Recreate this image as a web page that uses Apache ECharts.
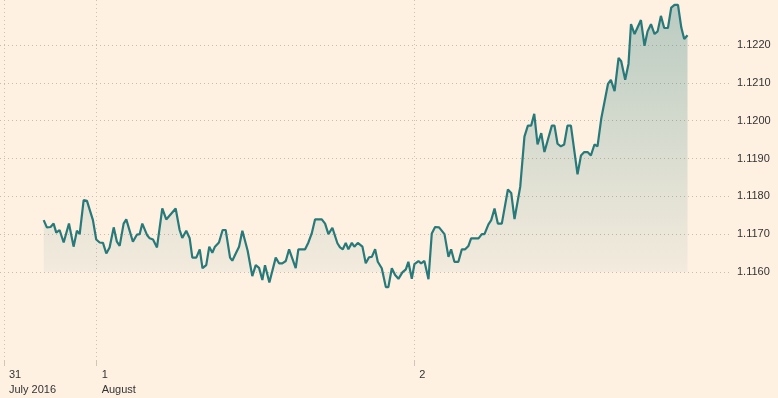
<!DOCTYPE html>
<html>
<head>
<meta charset="utf-8">
<script src="https://cdn.jsdelivr.net/npm/echarts@6/dist/echarts.min.js"></script>
<style>
  html, body { margin: 0; padding: 0; background: #fef1e2; }
  #chart { width: 778px; height: 398px; }
</style>
</head>
<body>
<div id="chart"></div>
<script>
// hours counted from 31 July 2016 00:00
const hours = [
  20.0, 20.24, 20.52, 20.75, 20.95, 21.2, 21.51, 21.91, 22.26, 22.51, 22.72, 23.02, 23.27, 23.72, 23.97,
  24.23, 24.48, 24.73, 24.98, 25.29, 25.53, 25.74, 26.04, 26.24, 26.74, 27.05, 27.25, 27.45, 27.82, 28.01,
  28.26, 28.56, 28.71, 28.96, 29.26, 29.97, 30.27, 30.47, 30.77, 31.03, 31.23, 31.53, 31.79, 32.0, 32.28,
  32.51, 32.74, 32.94, 33.24, 33.52, 33.75, 34.08, 34.25, 34.51, 34.76, 35.01, 35.41, 35.76, 36.02, 36.27,
  36.52, 36.72, 37.05, 37.53, 37.78, 38.03, 38.29, 38.54, 39.04, 39.24, 39.75, 40.0, 40.25, 40.5, 41.01,
  41.26, 41.51, 41.81, 42.19, 42.39, 42.6, 42.82, 43.02, 43.28, 43.47, 43.73, 44.08, 44.33, 44.58, 44.79,
  45.04, 45.24, 45.54, 45.85, 46.04, 46.3, 46.55, 46.8, 47.1, 47.36, 47.55, 47.81, 48.01, 48.31, 48.51,
  48.76, 49.07, 49.32, 49.57, 49.87, 50.28, 50.58, 50.78, 51.03, 51.33, 51.59, 51.84, 52.09, 52.29, 52.85,
  53.1, 53.3, 53.6, 53.81, 54.06, 54.31, 54.61, 55.07, 55.32, 55.57, 56.0, 56.32, 56.58, 56.83, 57.06,
  57.31, 57.59, 57.83, 58.39, 58.59, 58.82, 59.07, 59.32, 59.57, 59.83, 60.33, 60.59, 60.84, 61.09, 61.34,
  61.61, 61.84, 62.12, 62.63, 62.85, 63.13, 63.43, 63.63, 63.93, 64.18, 64.37, 64.64, 65.12, 65.39, 65.62,
  65.88, 66.15, 66.38, 66.63, 66.88, 67.16, 67.41, 67.66, 67.92, 68.17, 68.39, 68.64
];
const rates = [
  1.11737, 1.11718, 1.11719, 1.11728, 1.11704, 1.11711, 1.11678, 1.11728, 1.11667, 1.11709, 1.117, 1.1179, 1.11788, 1.11737, 1.11686,
  1.11678, 1.11677, 1.11649, 1.11665, 1.11718, 1.1168, 1.11669, 1.11728, 1.11739, 1.1168, 1.11699, 1.117, 1.11728, 1.11697, 1.11689,
  1.11686, 1.11665, 1.1166, 1.11768, 1.11739, 1.11768, 1.11711, 1.1169, 1.11709, 1.11689, 1.11638, 1.11638, 1.1166, 1.1161, 1.11618,
  1.11667, 1.11651, 1.11667, 1.11678, 1.11711, 1.11711, 1.11638, 1.1163, 1.11649, 1.11667, 1.11709, 1.11656, 1.11589, 1.11618, 1.11611,
  1.11579, 1.11618, 1.11572, 1.11638, 1.11623, 1.11623, 1.11629, 1.1166, 1.1161, 1.1166, 1.1166, 1.11678, 1.11702, 1.11739, 1.11739,
  1.11728, 1.117, 1.11717, 1.11676, 1.11665, 1.1166, 1.11677, 1.1166, 1.11677, 1.11667, 1.11677, 1.11667, 1.11623, 1.11639, 1.1164,
  1.1166, 1.11627, 1.1161, 1.1156, 1.1156, 1.1161, 1.11592, 1.11582, 1.11599, 1.11607, 1.11627, 1.11582, 1.11621, 1.11629, 1.11623,
  1.11629, 1.11581, 1.11702, 1.11719, 1.11718, 1.117, 1.1164, 1.1166, 1.11627, 1.11627, 1.1166, 1.1166, 1.11669, 1.11689, 1.11689,
  1.117, 1.117, 1.11726, 1.11737, 1.11768, 1.11728, 1.11728, 1.11818, 1.11809, 1.1174, 1.11825, 1.11958, 1.11987, 1.11987, 1.12018,
  1.11937, 1.11967, 1.11917, 1.11987, 1.11987, 1.11939, 1.11932, 1.11937, 1.11987, 1.11987, 1.11858, 1.11908, 1.11917, 1.11917, 1.11908,
  1.11937, 1.11932, 1.12005, 1.12097, 1.12108, 1.12078, 1.12166, 1.12157, 1.12108, 1.1215, 1.12255, 1.12229, 1.12266, 1.12198, 1.12236,
  1.12255, 1.12229, 1.12236, 1.12277, 1.12245, 1.12245, 1.12299, 1.12306, 1.12306, 1.12246, 1.12216, 1.12226
];

const xTickHours = [17, 24, 48];
const xTickLabels = ["31\nJuly 2016", "1\nAugust", "2"];

const chart = echarts.init(document.getElementById("chart"));
const font = 'Arial, "Liberation Sans", sans-serif';
const teal = "#27797a";

const option = {
  backgroundColor: "#fef1e2",
  animation: false,
  grid: [
    { left: 0, right: 46, top: 45, bottom: 126 },
    { left: 0, right: 46, top: 0, bottom: 38 },
  ],
  xAxis: [
    { gridIndex: 0, type: "value", min: 16.7, max: 72, show: false },
    {
      gridIndex: 1,
      type: "value",
      min: 16.7,
      max: 72,
      axisLine: { show: false },
      axisTick: {
        show: true,
        length: 6,
        customValues: xTickHours,
        lineStyle: { color: "#cfc6bb", width: 1 },
      },
      splitLine: {
        show: true,
        lineStyle: { color: "#cfc2b3", type: [1, 3], width: 1 },
      },
      axisLabel: {
        customValues: xTickHours,
        formatter: (v) => xTickLabels[xTickHours.indexOf(v)] || "",
        align: "left",
        padding: [0, 0, 0, 5],
        margin: 7,
        fontFamily: font,
        fontSize: 11,
        lineHeight: 15,
        color: "#333",
      },
    },
  ],
  yAxis: [
    {
      gridIndex: 0,
      type: "value",
      position: "right",
      min: 1.116,
      max: 1.122,
      interval: 0.001,
      axisLine: { show: false },
      axisTick: { show: false },
      splitLine: {
        show: true,
        lineStyle: { color: "#c9bcae", type: [1, 3], width: 1 },
      },
      axisLabel: {
        formatter: (v) => v.toFixed(4),
        margin: 5,
        fontFamily: font,
        fontSize: 11,
        color: "#333",
      },
    },
    { gridIndex: 1, type: "value", min: 0, max: 1, show: false },
  ],
  series: [
    {
      type: "line",
      xAxisIndex: 0,
      yAxisIndex: 0,
      clip: false,
      symbol: "none",
      data: hours.map((h, i) => [h, rates[i]]),
      lineStyle: { color: teal, width: 2.2 },
      areaStyle: {
        origin: "start",
        color: new echarts.graphic.LinearGradient(0, 0, 0, 1, [
          { offset: 0, color: "rgba(39,121,122,0.45)" },
          { offset: 1, color: "rgba(39,121,122,0.05)" },
        ]),
      },
    },
  ],
};

chart.setOption(option);
</script>
</body>
</html>
